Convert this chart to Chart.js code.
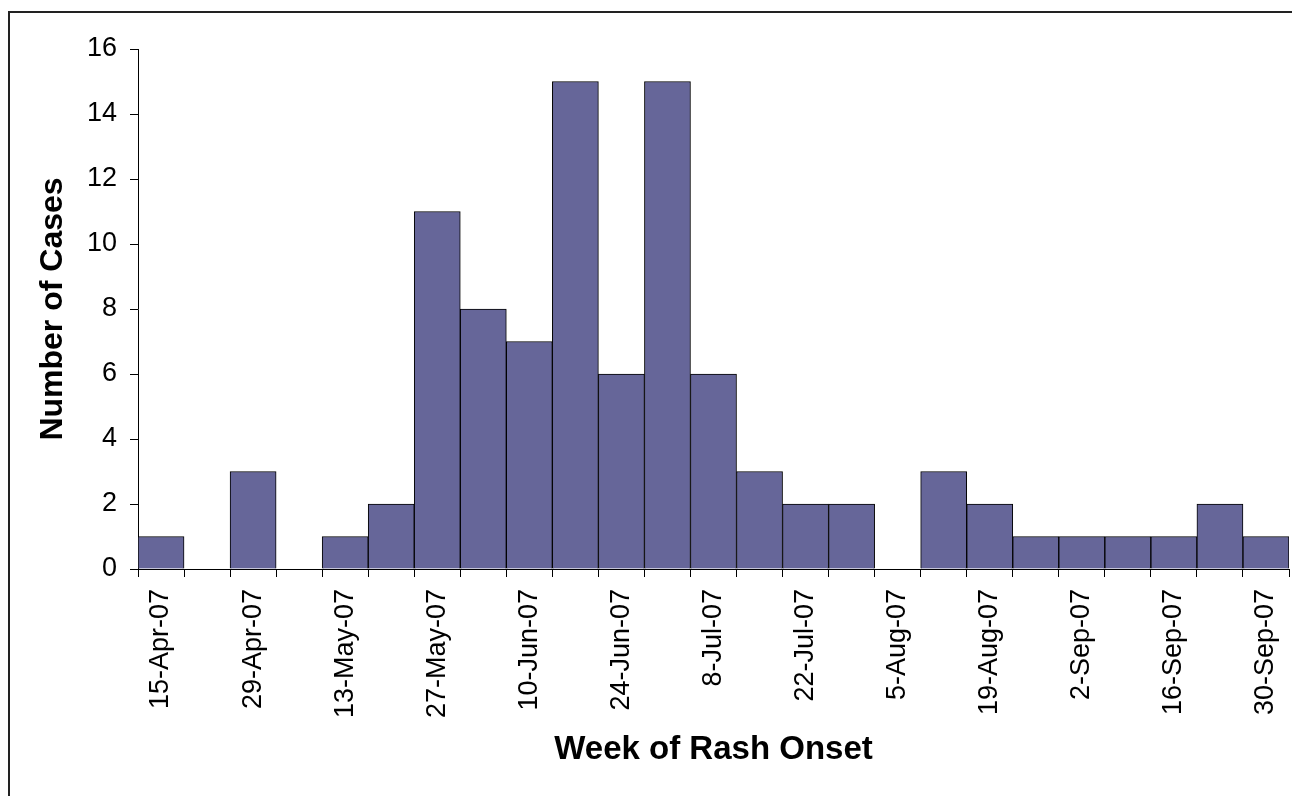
<!DOCTYPE html>
<html>
<head>
<meta charset="utf-8">
<script src="https://cdn.jsdelivr.net/npm/chart.js@4.4.1/dist/chart.umd.min.js"></script>
<style>
  html, body { margin: 0; padding: 0; background: #fff; overflow: hidden; }
  #frame { position: absolute; left: 8px; top: 11px; width: 1300px; height: 800px; border: 2px solid #222; }
  #wrap { position: absolute; left: 0; top: 0; width: 1292px; height: 796px; }
</style>
</head>
<body>
<div id="frame"></div>
<div id="wrap"><canvas id="chart"></canvas></div>
<script>
// weekly case counts, one entry per week of rash onset
const weeks = [
  '15-Apr-07', '22-Apr-07', '29-Apr-07', '6-May-07', '13-May-07', '20-May-07',
  '27-May-07', '3-Jun-07', '10-Jun-07', '17-Jun-07', '24-Jun-07', '1-Jul-07',
  '8-Jul-07', '15-Jul-07', '22-Jul-07', '29-Jul-07', '5-Aug-07', '12-Aug-07',
  '19-Aug-07', '26-Aug-07', '2-Sep-07', '9-Sep-07', '16-Sep-07', '23-Sep-07', '30-Sep-07'
];
const cases = [1, 0, 3, 0, 1, 2, 11, 8, 7, 15, 6, 15, 6, 3, 2, 2, 0, 3, 2, 1, 1, 1, 1, 2, 1];
const yTicks = [0, 2, 4, 6, 8, 10, 12, 14, 16];

const FONT = "'Liberation Sans', Arial, sans-serif";

Chart.defaults.font.family = FONT;
Chart.defaults.color = '#000';

new Chart(document.getElementById('chart'), {
  type: 'bar',
  data: {
    labels: weeks,
    datasets: [{
      data: cases,
      backgroundColor: '#666699',
      borderColor: '#000',
      borderWidth: 1,
      barPercentage: 1,
      categoryPercentage: 1
    }]
  },
  options: {
    responsive: true,
    maintainAspectRatio: false,
    animation: false,
    layout: { padding: { left: 0, top: 49, right: 3, bottom: 0 } },
    plugins: { legend: { display: false }, tooltip: { enabled: false } },
    scales: {
      x: {
        afterFit: s => { s.height = 227; s.paddingLeft = 0; s.paddingRight = 0; },
        grid: { drawOnChartArea: false, drawTicks: true, tickLength: 8, color: '#000', offset: true },
        border: { display: true, color: '#000', width: 1 },
        ticks: {
          autoSkip: false,
          maxRotation: 90,
          minRotation: 90,
          padding: 12,
          font: { size: 27 },
          callback: (v, i) => (i % 2 === 0 ? weeks[i] : '')
        },
        title: {
          display: true,
          text: 'Week of Rash Onset',
          font: { size: 33, weight: 'bold', lineHeight: 1 },
          padding: { top: 0, bottom: 30 }
        }
      },
      y: {
        min: 0,
        max: 16,
        afterFit: s => { s.width = 138; s.paddingTop = 0; s.paddingBottom = 0; },
        afterBuildTicks: s => { s.ticks = yTicks.map(v => ({ value: v })); },
        grid: { drawOnChartArea: false, drawTicks: true, tickLength: 8, color: '#000' },
        border: { display: true, color: '#000', width: 1 },
        ticks: { padding: 13, font: { size: 27 } },
        title: {
          display: true,
          text: 'Number of Cases',
          font: { size: 32, weight: 'bold', lineHeight: 1 },
          padding: { top: 37, bottom: 0 }
        }
      }
    }
  }
});
</script>
</body>
</html>
